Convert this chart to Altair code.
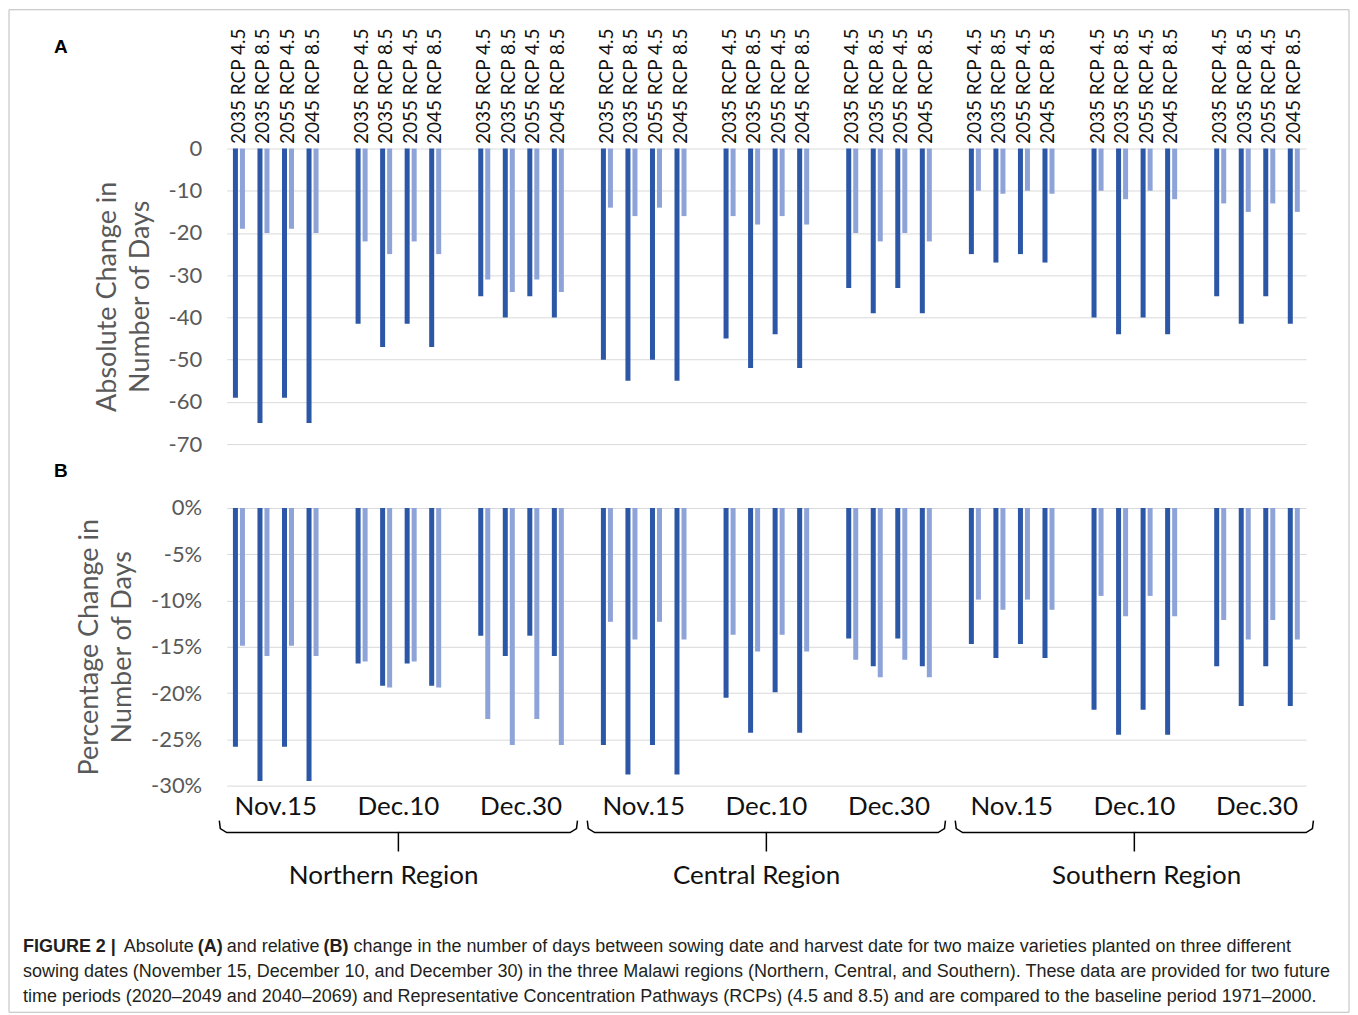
import altair as alt
import pandas as pd

# ---------------- data ----------------
regions = ["Northern Region", "Central Region", "Southern Region"]
dates = ["Nov.15", "Dec.10", "Dec.30"]
scenarios = ["2035 RCP 4.5", "2035 RCP 8.5", "2055 RCP 4.5", "2045 RCP 8.5"]
varieties = ["Variety 1", "Variety 2"]

# absolute change (days), order: region -> sowing date -> scenario
abs_v1 = [-59, -65, -59, -65,  -41.5, -47, -41.5, -47,  -35, -40, -35, -40,
          -50, -55, -50, -55,  -45, -52, -44, -52,      -33, -39, -33, -39,
          -25, -27, -25, -27,  -40, -44, -40, -44,      -35, -41.5, -35, -41.5]
abs_v2 = [-19, -20, -19, -20,  -22, -25, -22, -25,      -31, -34, -31, -34,
          -14, -16, -14, -16,  -16, -18, -16, -18,      -20, -22, -20, -22,
          -10, -10.7, -10, -10.7, -10, -12, -10, -12,   -13, -15, -13, -15]
# percentage change (%)
pct_v1 = [-25.8, -29.5, -25.8, -29.5,  -16.8, -19.2, -16.8, -19.2,  -13.8, -16.0, -13.8, -16.0,
          -25.6, -28.8, -25.6, -28.8,  -20.5, -24.3, -19.9, -24.3,  -14.1, -17.1, -14.1, -17.1,
          -14.7, -16.2, -14.7, -16.2,  -21.8, -24.5, -21.8, -24.5,  -17.1, -21.4, -17.1, -21.4]
pct_v2 = [-14.9, -16.0, -14.9, -16.0,  -16.6, -19.4, -16.6, -19.4,  -22.8, -25.6, -22.8, -25.6,
          -12.3, -14.2, -12.3, -14.2,  -13.7, -15.5, -13.7, -15.5,  -16.4, -18.3, -16.4, -18.3,
          -9.9, -11.0, -9.9, -11.0,    -9.5, -11.7, -9.5, -11.7,    -12.1, -14.2, -12.1, -14.2]

abs_ticks = [0, -10, -20, -30, -40, -50, -60, -70]
pct_ticks = [0, -5, -10, -15, -20, -25, -30]

# ---------------- table ----------------
rows = []
slot_domain = []
i = 0
n_groups = len(regions) * len(dates)
g = 0
for r in regions:
    for d in dates:
        for s in scenarios:
            key = f"{r}|{d}|{s}"
            slot_domain.append(key)
            rows.append(dict(slot=key, region=r, date=d, scenario=s, variety=varieties[0],
                             abs=abs_v1[i], pct=pct_v1[i]))
            rows.append(dict(slot=key, region=r, date=d, scenario=s, variety=varieties[1],
                             abs=abs_v2[i], pct=pct_v2[i]))
            i += 1
        g += 1
        if g < n_groups:
            slot_domain.append(f"gap{g}")
df = pd.DataFrame(rows)

W = 1081
HA = 296
HB = 278
SP = 64
step = W / len(slot_domain)

FONT = "Lato"
GREY = "#595959"
x_scale = alt.Scale(domain=slot_domain, paddingInner=0.51, paddingOuter=0.255)
xoff_scale = alt.Scale(domain=varieties, paddingInner=0.286, paddingOuter=0)
color_scale = alt.Scale(domain=varieties, range=["#2C56A6", "#8EA3D7"])

y_axis_common = dict(domain=False, ticks=False, grid=True, gridColor="#D9D9D9", gridWidth=1,
                     labelFontSize=22, labelColor=GREY, labelPadding=25, labelFont=FONT,
                     titleFontSize=27, titleColor=GREY, titleFontWeight="normal", titleFont=FONT,
                     titlePadding=14, titleLineHeight=33)

panelA = alt.Chart(df).mark_bar().encode(
    x=alt.X("slot:N", scale=x_scale,
            axis=alt.Axis(orient="top", title=None, labelAngle=270, labelAlign="left",
                          labelBaseline="middle", labelPadding=5, labelFontSize=19,
                          labelColor="#111111", labelFont=FONT, domain=False, ticks=False,
                          labelOverlap=False, labelLimit=300, grid=False,
                          labelExpr="indexof(datum.value, '|') >= 0 ? split(datum.value, '|')[2] : ''")),
    xOffset=alt.XOffset("variety:N", scale=xoff_scale),
    y=alt.Y("abs:Q", scale=alt.Scale(domain=[-70, 0], nice=False),
            axis=alt.Axis(values=abs_ticks, title=["Absolute Change in", "Number of Days"],
                          labelExpr="datum.value + ''", **y_axis_common)),
    color=alt.Color("variety:N", scale=color_scale, legend=None),
).properties(width=W, height=HA)

panelB = alt.Chart(df).mark_bar().encode(
    x=alt.X("slot:N", scale=x_scale,
            axis=alt.Axis(orient="bottom", title=None, labelAngle=0, labelAlign="center",
                          labelPadding=8, labelFontSize=26, labelColor="#111111", labelFont=FONT,
                          domain=False, ticks=False, labelOverlap=False, labelLimit=300, grid=False,
                          labelOffset=step / 2,
                          labelExpr="indexof(datum.value, '|') >= 0 && split(datum.value, '|')[2] == '"
                                    + scenarios[1] + "' ? split(datum.value, '|')[1] : ''")),
    xOffset=alt.XOffset("variety:N", scale=xoff_scale),
    y=alt.Y("pct:Q", scale=alt.Scale(domain=[-30, 0], nice=False),
            axis=alt.Axis(values=pct_ticks, title=["Percentage Change in", "Number of Days"],
                          labelExpr="datum.value + '%'", **y_axis_common)),
    color=alt.Color("variety:N", scale=color_scale, legend=None),
).properties(width=W, height=HB)

# ---------------- bottom: braces, region names, caption, frame ----------------
OX, OY = 226, 785 + SP   # page origin of the bottom view (for annotation offsets)
n_slots = len(slot_domain)
brace_rows = []
for ri, r in enumerate(regions):
    x0 = ri * 15 - 0.3
    x1 = ri * 15 + 14.3
    xc = ri * 15 + 7
    left = [(x0, -29), (x0 + 0.04, -21), (x0 + 0.3, -17), (xc, -17), (xc, 2)]
    right = [(x1, -29), (x1 - 0.04, -21), (x1 - 0.3, -17), (xc, -17)]
    for k, (bx, by) in enumerate(left):
        brace_rows.append(dict(seg=f"{ri}L", k=k, bx=bx, by=by))
    for k, (bx, by) in enumerate(right):
        brace_rows.append(dict(seg=f"{ri}R", k=k, bx=bx, by=by))
braces_df = pd.DataFrame(brace_rows)
bx_scale = alt.Scale(domain=[0, n_slots], nice=False, zero=False)
by_scale = alt.Scale(domain=[0, 150], range=[0, 150], nice=False, zero=False)

braces = alt.Chart(braces_df).mark_line(color="#000000", strokeWidth=1.5).encode(
    x=alt.X("bx:Q", scale=bx_scale, axis=None),
    y=alt.Y("by:Q", scale=by_scale, axis=None),
    detail="seg:N",
    order="k:Q",
)

label_shift = [-0.6, -0.4, 0.5]  # small hand placement of region names under braces
region_df = pd.DataFrame({"region": regions,
                          "cx": [ri * 15 + 7 + label_shift[ri] for ri in range(len(regions))]})
region_text = alt.Chart(region_df).mark_text(font=FONT, fontSize=26, color="#111111",
                                             align="center", baseline="middle").encode(
    x=alt.X("cx:Q", scale=bx_scale, axis=None),
    y=alt.value(876 - OY),
    text="region:N",
)

one = alt.Data(values=[{"a": 1}])


def note(text, px, py, size=18, bold=False, font="Liberation Sans", color="#231F20", align="left"):
    return alt.Chart(one).mark_text(text=text, font=font, fontSize=size,
                                    fontWeight="bold" if bold else "normal", color=color,
                                    align=align, baseline="middle").encode(
        x=alt.value(px - OX), y=alt.value(py - OY))


caption = [
    note("FIGURE 2 |", 22, 947, bold=True),
    note("Absolute", 123, 947),
    note("(A)", 197, 947, bold=True),
    note("and relative", 226, 947),
    note("(B)", 323, 947, bold=True),
    note("change in the number of days between sowing date and harvest date for two maize varieties planted on three different", 353, 947),
    note("sowing dates (November 15, December 10, and December 30) in the three Malawi regions (Northern, Central, and Southern). These data are provided for two future", 22, 972),
    note("time periods (2020–2049 and 2040–2069) and Representative Concentration Pathways (RCPs) (4.5 and 8.5) and are compared to the baseline period 1971–2000.", 22, 997),
    note("A", 60, 45, size=19, bold=True, color="#000000", align="center"),
    note("B", 60, 470, size=19, bold=True, color="#000000", align="center"),
]

frame = alt.Chart(one).mark_rect(filled=False, stroke="#BDBDBD", strokeWidth=1).encode(
    x=alt.value(8 - OX), x2=alt.value(1350 - OX),
    y=alt.value(8 - OY), y2=alt.value(1012 - OY),
)

bottom = alt.layer(braces, region_text, *caption, frame).properties(width=W, height=150)

chart = alt.vconcat(panelA, panelB, bottom, spacing=SP, bounds="flush").properties(
    padding=0
).configure(font=FONT).configure_view(strokeWidth=0)

chart.save("out.html", embed_options={"renderer": "svg", "actions": False})
